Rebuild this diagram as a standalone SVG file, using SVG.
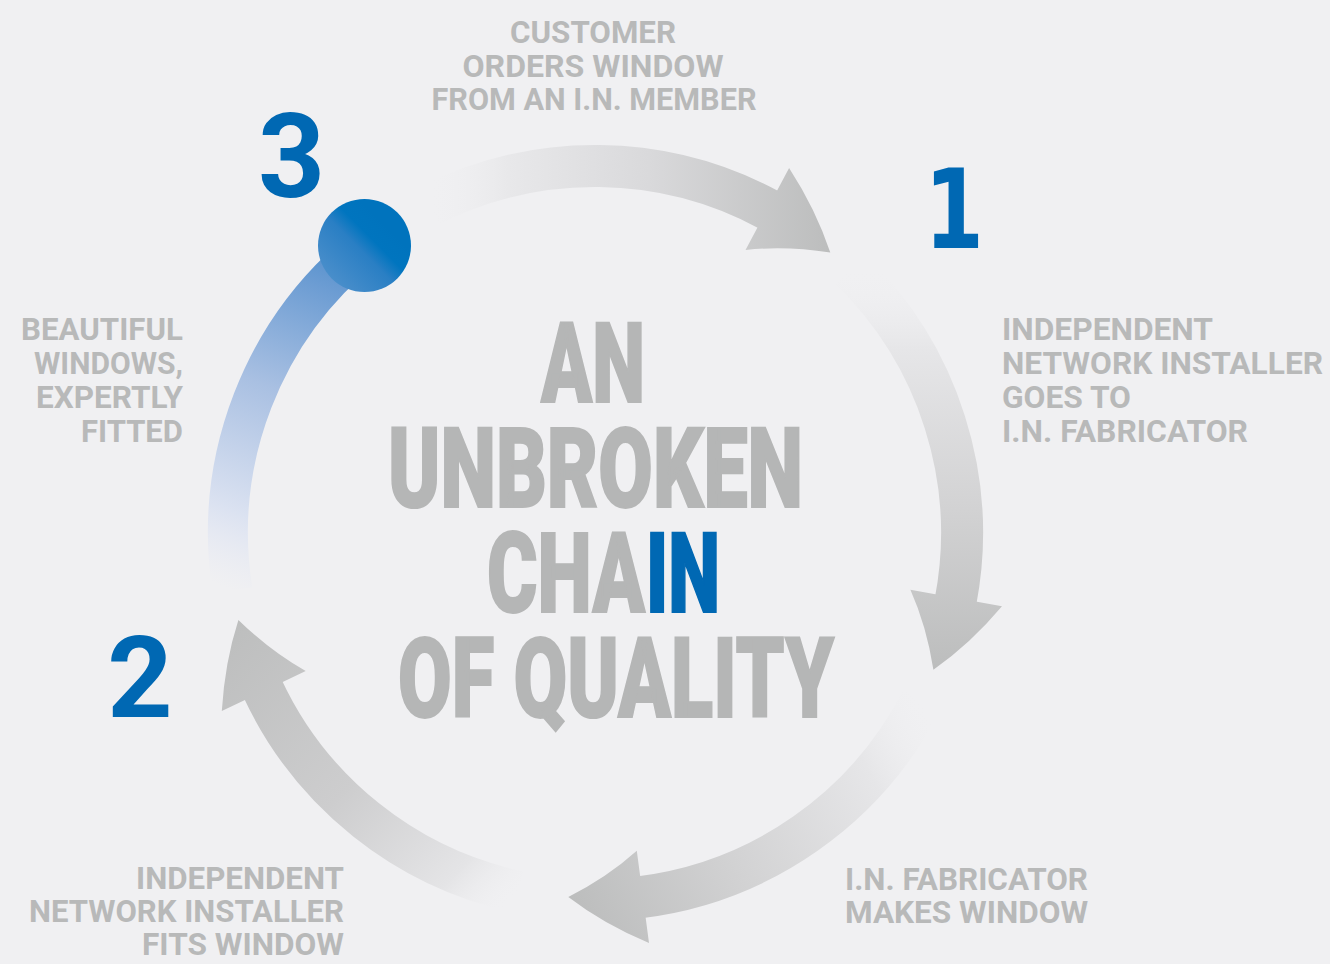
<svg xmlns="http://www.w3.org/2000/svg" width="1330" height="964" viewBox="0 0 1330 964">
<defs>
<style>
.lbl{font-family:Roboto,"Liberation Sans",sans-serif;font-weight:700;font-size:31px;fill:#b8b9b9}
.ttl{font-family:Roboto,"Liberation Sans",sans-serif;font-weight:900;font-size:112px;fill:#b5b6b6;stroke:#b5b6b6;stroke-width:2}
.num{font-family:Roboto,"Liberation Sans",sans-serif;font-weight:700;fill:#0068b3}
.blue{fill:#0068b3;stroke:#0068b3}
.shaft{fill:none;stroke-width:42;stroke-linecap:butt}
</style>
<linearGradient id="gTop" gradientUnits="userSpaceOnUse" x1="428" y1="0" x2="830" y2="0">
<stop offset="0" stop-color="#f0f0f2" stop-opacity="0"/>
<stop offset="0.2" stop-color="#e8e8ea"/>
<stop offset="0.55" stop-color="#d9d9db"/>
<stop offset="1" stop-color="#bcbdbd"/>
</linearGradient>
<linearGradient id="gRight" gradientUnits="userSpaceOnUse" x1="0" y1="269" x2="0" y2="670">
<stop offset="0" stop-color="#f0f0f2" stop-opacity="0"/>
<stop offset="0.2" stop-color="#e6e6e8"/>
<stop offset="0.6" stop-color="#d2d2d3"/>
<stop offset="1" stop-color="#bcbdbd"/>
</linearGradient>
<linearGradient id="gBottom" gradientUnits="userSpaceOnUse" x1="922" y1="700" x2="568" y2="897">
<stop offset="0" stop-color="#f0f0f2" stop-opacity="0"/>
<stop offset="0.2" stop-color="#e6e6e8"/>
<stop offset="0.6" stop-color="#d2d2d3"/>
<stop offset="1" stop-color="#bcbdbd"/>
</linearGradient>
<linearGradient id="gLeft" gradientUnits="userSpaceOnUse" x1="519" y1="892" x2="238" y2="620">
<stop offset="0" stop-color="#f0f0f2" stop-opacity="0"/>
<stop offset="0.15" stop-color="#e4e4e6"/>
<stop offset="0.5" stop-color="#cdcdce"/>
<stop offset="1" stop-color="#bdbebe"/>
</linearGradient>
<linearGradient id="gBlue" gradientUnits="userSpaceOnUse" x1="232" y1="590" x2="366" y2="246">
<stop offset="0" stop-color="#e6e9f4" stop-opacity="0"/>
<stop offset="0.2" stop-color="#dbe2f1"/>
<stop offset="0.55" stop-color="#a9c0e2"/>
<stop offset="0.85" stop-color="#6d9dd3"/>
<stop offset="1" stop-color="#4a8bca"/>
</linearGradient>
<linearGradient id="gDot" x1="0.15" y1="0.9" x2="0.75" y2="0.3">
<stop offset="0" stop-color="#4b8fcb"/>
<stop offset="0.55" stop-color="#2a7fc4"/>
<stop offset="0.75" stop-color="#0075bf"/>
<stop offset="1" stop-color="#0073bd"/>
</linearGradient>
</defs>
<rect x="0" y="0" width="1330" height="964" fill="#f0f0f2"/>

<g id="connectors">
<path class="shaft" stroke="url(#gTop)" d="M 428.4 206 A 367 367 0 0 1 770.1 210.5"/>
<path fill="url(#gTop)" d="M 789.1 167.9 Q 816.1 209.6 830.3 252.6 Q 785.9 245.5 745.5 250.0 Z"/>
<path class="shaft" stroke="url(#gRight)" d="M 849.9 269.0 A 367 367 0 0 1 955.5 601.8"/>
<path fill="url(#gRight)" d="M 1002.0 606.2 Q 970.3 643.9 933.4 669.7 Q 926.7 626.4 910.4 589.8 Z"/>
<path class="shaft" stroke="url(#gBottom)" d="M 922.0 699.6 A 367 367 0 0 1 639.1 897.3"/>
<path fill="url(#gBottom)" d="M 649.0 943.0 Q 603.8 924.2 568.3 897.0 Q 607.3 877.3 636.8 850.8 Z"/>
<path class="shaft" stroke="url(#gLeft)" d="M 518.7 892.0 A 367 367 0 0 1 262.1 687.5"/>
<path fill="url(#gLeft)" d="M 221.8 711.0 Q 224.7 662.4 238.4 619.9 Q 270.4 651.2 305.7 671.0 Z"/>
<path fill="none" stroke="url(#gBlue)" stroke-width="40" d="M 232.5 590.4 A 367 367 0 0 1 365.5 246.6"/>
</g>

<g id="node-start">
<circle cx="364.5" cy="245.5" r="46.5" fill="url(#gDot)"/>
</g>

<g id="node-num3"><text class="num" x="291.5" y="197" font-size="117" text-anchor="middle">3</text></g>
<g id="node-num1"><text class="num" transform="translate(954,248) scale(0.78,1)" font-size="110" text-anchor="middle" style="font-family:'DejaVu Sans',sans-serif">1</text></g>
<g id="node-num2"><text class="num" x="140" y="717" font-size="114" text-anchor="middle">2</text></g>

<g id="node-customer">
<text class="lbl" x="593" y="43" text-anchor="middle" textLength="166" lengthAdjust="spacingAndGlyphs">CUSTOMER</text>
<text class="lbl" x="593" y="77" text-anchor="middle" textLength="261" lengthAdjust="spacingAndGlyphs">ORDERS WINDOW</text>
<text class="lbl" x="594" y="110" text-anchor="middle" textLength="325" lengthAdjust="spacingAndGlyphs">FROM AN I.N. MEMBER</text>
</g>

<g id="node-goes">
<text class="lbl" x="1002" y="340" textLength="211" lengthAdjust="spacingAndGlyphs">INDEPENDENT</text>
<text class="lbl" x="1002" y="374" textLength="321" lengthAdjust="spacingAndGlyphs">NETWORK INSTALLER</text>
<text class="lbl" x="1002" y="408" textLength="129" lengthAdjust="spacingAndGlyphs">GOES TO</text>
<text class="lbl" x="1002" y="442" textLength="246" lengthAdjust="spacingAndGlyphs">I.N. FABRICATOR</text>
</g>

<g id="node-makes">
<text class="lbl" x="845" y="890" textLength="243" lengthAdjust="spacingAndGlyphs">I.N. FABRICATOR</text>
<text class="lbl" x="845" y="923" textLength="243" lengthAdjust="spacingAndGlyphs">MAKES WINDOW</text>
</g>

<g id="node-fits">
<text class="lbl" x="344" y="889" text-anchor="end" textLength="208" lengthAdjust="spacingAndGlyphs">INDEPENDENT</text>
<text class="lbl" x="344" y="922" text-anchor="end" textLength="315" lengthAdjust="spacingAndGlyphs">NETWORK INSTALLER</text>
<text class="lbl" x="344" y="955" text-anchor="end" textLength="202" lengthAdjust="spacingAndGlyphs">FITS WINDOW</text>
</g>

<g id="node-beautiful">
<text class="lbl" x="183" y="340" text-anchor="end" textLength="162" lengthAdjust="spacingAndGlyphs">BEAUTIFUL</text>
<text class="lbl" x="183" y="374" text-anchor="end" textLength="149" lengthAdjust="spacingAndGlyphs">WINDOWS,</text>
<text class="lbl" x="183" y="408" text-anchor="end" textLength="147" lengthAdjust="spacingAndGlyphs">EXPERTLY</text>
<text class="lbl" x="183" y="442" text-anchor="end" textLength="102" lengthAdjust="spacingAndGlyphs">FITTED</text>
</g>

<g id="node-title">
<text class="ttl" x="541" y="402" textLength="104" lengthAdjust="spacingAndGlyphs">AN</text>
<text class="ttl" x="388" y="507" textLength="415" lengthAdjust="spacingAndGlyphs">UNBROKEN</text>
<text class="ttl" x="487" y="612" textLength="158" lengthAdjust="spacingAndGlyphs">CHA</text>
<text class="ttl blue" x="646" y="612" textLength="74" lengthAdjust="spacingAndGlyphs">IN</text>
<text class="ttl" x="398" y="717" textLength="436" lengthAdjust="spacingAndGlyphs">OF QUALITY</text>
</g>
</svg>
